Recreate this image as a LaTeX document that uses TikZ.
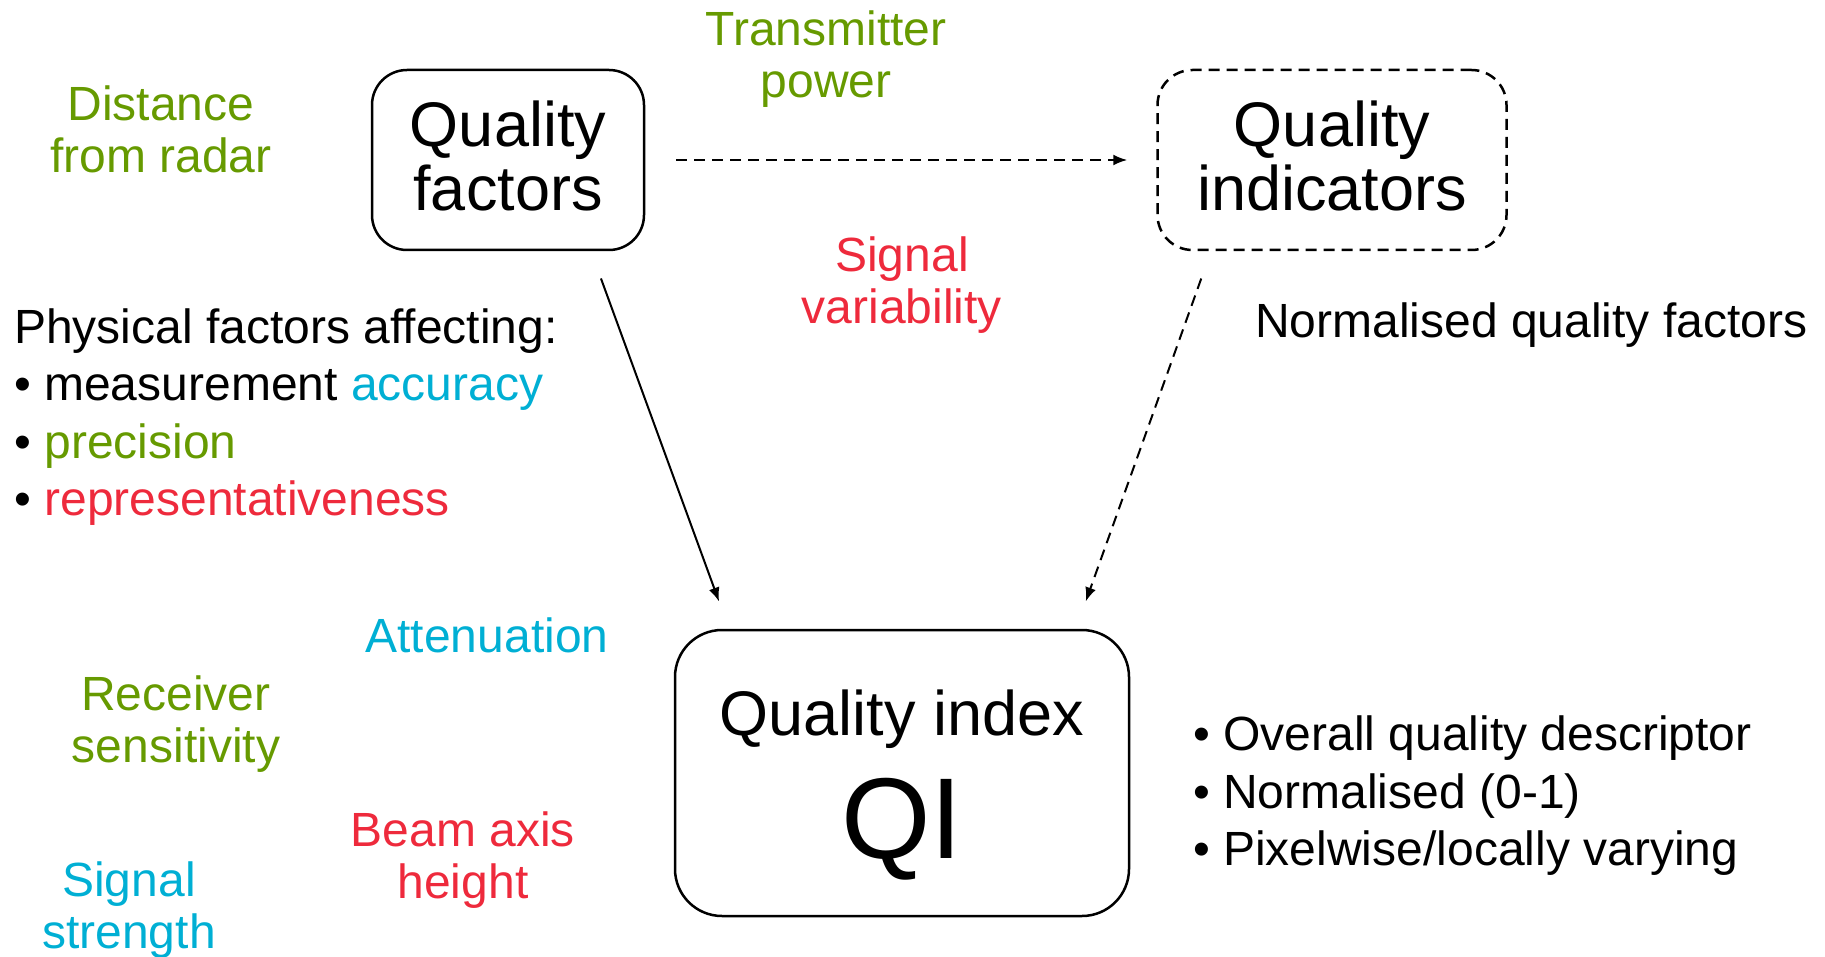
\documentclass[tikz,border=0pt]{standalone}
\usepackage{fontspec}
\setmainfont{Liberation Sans}
\usetikzlibrary{arrows.meta}

\definecolor{qgreen}{HTML}{669A00}
\definecolor{qblue}{HTML}{00AFD4}
\definecolor{qred}{HTML}{EE2A3C}

\begin{document}
\begin{tikzpicture}[x=1pt, y=-1pt,
    box/.style={draw, line width=2.5pt, rounded corners=35pt, align=center,
        inner sep=0pt, font=\fontsize{63}{64}\selectfont},
    lbl/.style={align=center, inner sep=0pt, font=\fontsize{48}{52}\selectfont},
    lst/.style={align=left, inner sep=0pt, font=\fontsize{48}{57.5}\selectfont},
    arr/.style={-{Latex[length=14pt, width=11pt]}, line width=2pt},
    dashline/.style={dash pattern=on 11pt off 7pt}]
    \useasboundingbox (0,0) rectangle (1825,957);

    % Main boxes (struts nudge the text inside)
    \node[box, minimum width=272pt, minimum height=180pt] (qf) at (508,160)
        {Quality\\factors\rule[-8pt]{0pt}{8pt}};
    \node[box, dashline, minimum width=349pt, minimum height=180pt] (qind) at (1332,160)
        {Quality\\indicators\rule[-8pt]{0pt}{8pt}};
    \node[box, rounded corners=47pt, minimum width=454pt, minimum height=286pt] (qi) at (902,773)
        {\rule{0pt}{70pt}Quality index\\[28pt]{\fontsize{115}{115}\selectfont QI}};

    % Connectors
    \draw[arr, dashline, shorten <=31pt, shorten >=29pt] (qf.east) -- (qind.west);
    \draw[arr, shorten <=29pt, shorten >=29pt] ([xshift=83pt]qf.south) -- ([xshift=-173pt]qi.north);
    \draw[arr, dashline, shorten <=29pt, shorten >=29pt] ([xshift=-121pt]qind.south) -- ([xshift=174pt]qi.north);

    % Factor labels
    \node[lbl, qgreen] (dist) at (161,129) {Distance\\from radar};
    \node[lbl, qgreen] (trans) at (826,59) {Transmitter\\power};
    \node[lbl, qred] (svar) at (902,285) {Signal\\variability};
    \node[lbl, qblue] (att) at (487,635) {Attenuation};
    \node[lbl, qgreen] (recv) at (176,724) {Receiver\\sensitivity};
    \node[lbl, qred] (beam) at (463,860) {Beam axis\\height};
    \node[lbl, qblue] (sstr) at (129,910) {Signal\\strength};

    % Descriptions
    \node[lbl, anchor=west] (norm) at (1255,325) {Normalised quality factors};
    \node[lst, anchor=west] (phys) at (14,417) {Physical factors affecting:\\
        \textbullet\ measurement \textcolor{qblue}{accuracy}\\
        \textbullet\ \textcolor{qgreen}{precision}\\
        \textbullet\ \textcolor{qred}{representativeness}};
    \node[lst, anchor=west] (props) at (1193,796) {\textbullet\ Overall quality descriptor\\
        \textbullet\ Normalised (0-1)\\
        \textbullet\ Pixelwise/locally varying};
\end{tikzpicture}
\end{document}
